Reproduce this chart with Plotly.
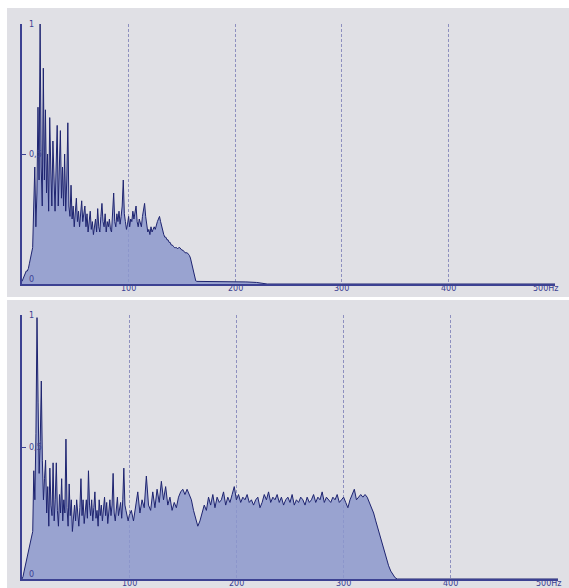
import plotly.graph_objects as go

# ---------------- data ----------------
FREQ_TOP = list(range(0, 171)) + [180, 190, 200, 210, 220, 225, 230, 300, 400, 500]
AMP_TOP = [
    0.01, 0.02, 0.03, 0.04, 0.05, 0.05, 0.06, 0.08, 0.10, 0.12,   # 0-9
    0.14, 0.30, 0.45, 0.22, 0.35, 0.68, 0.40, 1.00, 0.45, 0.30,   # 10-19
    0.83, 0.40, 0.67, 0.35, 0.50, 0.28, 0.64, 0.45, 0.30, 0.55,   # 20-29
    0.36, 0.28, 0.45, 0.61, 0.30, 0.42, 0.59, 0.33, 0.45, 0.30,   # 30-39
    0.50, 0.28, 0.40, 0.62, 0.30, 0.26, 0.38, 0.25, 0.30, 0.22,   # 40-49
    0.27, 0.33, 0.24, 0.28, 0.22, 0.26, 0.32, 0.24, 0.28, 0.30,   # 50-59
    0.22, 0.27, 0.20, 0.25, 0.28, 0.21, 0.24, 0.19, 0.23, 0.25,   # 60-69
    0.20, 0.29, 0.22, 0.20, 0.26, 0.31, 0.24, 0.22, 0.27, 0.20,   # 70-79
    0.24, 0.22, 0.25, 0.21, 0.20, 0.26, 0.35, 0.24, 0.22, 0.27,   # 80-89
    0.24, 0.28, 0.23, 0.26, 0.30, 0.40, 0.27, 0.24, 0.21, 0.23,   # 90-99
    0.26, 0.22, 0.25, 0.24, 0.28, 0.25, 0.27, 0.30, 0.24, 0.22,   # 100-109
    0.25, 0.23, 0.22, 0.26, 0.28, 0.31, 0.26, 0.22, 0.20, 0.21,   # 110-119
    0.19, 0.22, 0.20, 0.21, 0.22, 0.21, 0.23, 0.24, 0.25, 0.26,   # 120-129
    0.24, 0.22, 0.20, 0.19, 0.18, 0.18, 0.17, 0.17, 0.16, 0.16,   # 130-139
    0.15, 0.15, 0.145, 0.14, 0.14, 0.14, 0.135, 0.14, 0.14, 0.135,  # 140-149
    0.13, 0.13, 0.125, 0.12, 0.12, 0.12, 0.115, 0.11, 0.10, 0.08,  # 150-159
    0.06, 0.04, 0.02, 0.012, 0.01, 0.01, 0.01, 0.01, 0.01, 0.01,  # 160-169
    0.01,                                                         # 170
    0.01, 0.008, 0.008, 0.008, 0.006, 0.002, 0.0, 0.0, 0.0, 0.0,  # tail
]

FREQ_BOT = list(range(0, 101)) + list(range(102, 352, 2)) + [360, 400, 450, 500]
AMP_BOT = [
    0.0, 0.01, 0.03, 0.05, 0.07, 0.09, 0.11, 0.12, 0.14, 0.16,    # 0-9
    0.18, 0.41, 0.30, 0.55, 0.99, 0.67, 0.40, 0.52, 0.75, 0.45,   # 10-19
    0.30, 0.38, 0.45, 0.25, 0.35, 0.20, 0.42, 0.28, 0.24, 0.44,   # 20-29
    0.22, 0.30, 0.44, 0.26, 0.20, 0.32, 0.25, 0.38, 0.22, 0.30,   # 30-39
    0.25, 0.53, 0.27, 0.20, 0.36, 0.24, 0.30, 0.18, 0.25, 0.28,   # 40-49
    0.22, 0.30, 0.25, 0.20, 0.27, 0.38, 0.24, 0.30, 0.21, 0.26,   # 50-59
    0.30, 0.23, 0.41, 0.28, 0.24, 0.30, 0.22, 0.27, 0.33, 0.23,   # 60-69
    0.26, 0.20, 0.30, 0.24, 0.28, 0.22, 0.26, 0.31, 0.24, 0.29,   # 70-79
    0.21, 0.26, 0.30, 0.24, 0.28, 0.40, 0.25, 0.22, 0.27, 0.31,   # 80-89
    0.24, 0.26, 0.29, 0.23, 0.30, 0.42, 0.28, 0.26, 0.24, 0.22,   # 90-99
    0.24,                                                         # 100
    0.26, 0.22, 0.28, 0.33, 0.25, 0.30, 0.27, 0.39, 0.28, 0.26,   # 102-120
    0.33, 0.27, 0.34, 0.29, 0.37, 0.30, 0.35, 0.28, 0.31, 0.26,   # 122-140
    0.29, 0.27, 0.31, 0.33, 0.34, 0.32, 0.34, 0.32, 0.30, 0.26,   # 142-160
    0.23, 0.20, 0.22, 0.25, 0.28, 0.26, 0.31, 0.28, 0.32, 0.27,   # 162-180
    0.31, 0.29, 0.30, 0.33, 0.28, 0.31, 0.29, 0.32, 0.35, 0.30,   # 182-200
    0.32, 0.29, 0.31, 0.30, 0.32, 0.29, 0.30, 0.28, 0.30, 0.31,   # 202-220
    0.27, 0.29, 0.32, 0.30, 0.33, 0.29, 0.31, 0.30, 0.32, 0.29,   # 222-240
    0.31, 0.28, 0.30, 0.31, 0.29, 0.32, 0.28, 0.30, 0.29, 0.31,   # 242-260
    0.30, 0.28, 0.31, 0.29, 0.30, 0.32, 0.29, 0.31, 0.30, 0.33,   # 262-280
    0.29, 0.31, 0.30, 0.29, 0.31, 0.30, 0.32, 0.29, 0.30, 0.31,   # 282-300
    0.29, 0.27, 0.30, 0.32, 0.34, 0.30, 0.31, 0.32, 0.31, 0.32,   # 302-320
    0.31, 0.29, 0.27, 0.25, 0.22, 0.19, 0.16, 0.13, 0.10, 0.07,   # 322-340
    0.05, 0.03, 0.015, 0.005, 0.0,                                # 342-350
    0.0, 0.0, 0.0, 0.0,                                           # tail
]

X_TICKS = [100, 200, 300, 400, 500]
X_TICK_TEXT = ["100", "200", "300", "400", "500Hz"]
Y_TICKS = [0.5, 1]
Y_TICK_TEXT = ["0,5", "1"]

# ---------------- style ----------------
W, H = 569, 588
NAVY = "#1e2470"
AXIS = "#3c4192"
FILL = "rgba(140,152,204,0.85)"
PANEL = "#e0e0e5"
GRID = "#8e90bf"
FONT = dict(family="DejaVu Sans", size=8, color=AXIS)

fig = go.Figure()
fig.add_trace(go.Scatter(x=FREQ_TOP, y=AMP_TOP, mode="lines", fill="tozeroy",
                         fillcolor=FILL, line=dict(color=NAVY, width=1),
                         xaxis="x", yaxis="y", showlegend=False, hoverinfo="skip"))
fig.add_trace(go.Scatter(x=FREQ_BOT, y=AMP_BOT, mode="lines", fill="tozeroy",
                         fillcolor=FILL, line=dict(color=NAVY, width=1),
                         xaxis="x2", yaxis="y2", showlegend=False, hoverinfo="skip"))

def xax(domain, anchor):
    return dict(domain=domain, range=[0, 500], anchor=anchor, showgrid=True,
                gridcolor=GRID, griddash="3px,2px", gridwidth=1,
                tickvals=X_TICKS, showticklabels=False, ticks="",
                showline=True, linecolor=AXIS, linewidth=2, zeroline=False, fixedrange=True)

def yax(domain, anchor):
    return dict(domain=domain, range=[0, 1], anchor=anchor, showgrid=False,
                tickvals=Y_TICKS, showticklabels=False, ticks="inside", ticklen=4,
                tickcolor=AXIS, tickwidth=1,
                showline=True, linecolor=AXIS, linewidth=2, zeroline=False, fixedrange=True)

fig.update_layout(
    width=W, height=H, margin=dict(l=0, r=0, t=0, b=0),
    paper_bgcolor="white", plot_bgcolor="rgba(0,0,0,0)",
    xaxis=xax([22 / W, 555 / W], "y"),
    yaxis=yax([1 - 284 / H, 1 - 24 / H], "x"),
    xaxis2=xax([22 / W, 558 / W], "y2"),
    yaxis2=yax([1 - 579 / H, 1 - 315 / H], "x2"),
    shapes=[
        dict(type="rect", xref="paper", yref="paper", x0=7 / W, x1=1,
             y0=1 - 297 / H, y1=1 - 8 / H, fillcolor=PANEL, line=dict(width=0), layer="below"),
        dict(type="rect", xref="paper", yref="paper", x0=7 / W, x1=1,
             y0=0, y1=1 - 300 / H, fillcolor=PANEL, line=dict(width=0), layer="below"),
    ],
)

ann = []
for xr, yr in [("x", "y"), ("x2", "y2")]:
    for v, t in zip(X_TICKS, X_TICK_TEXT):
        ann.append(dict(x=v, y=0, xref=xr, yref=yr, text=t, showarrow=False, font=FONT,
                        xanchor="right" if t.endswith("Hz") else "center",
                        xshift=4 if t.endswith("Hz") else 0,
                        yanchor="top", yshift=1, borderpad=0))
    for v, t in zip(Y_TICKS, Y_TICK_TEXT):
        ann.append(dict(x=0, y=v, xref=xr, yref=yr, text=t, showarrow=False, font=FONT,
                        xanchor="left", xshift=5, yanchor="middle"))
    ann.append(dict(x=0, y=0, xref=xr, yref=yr, text="0", showarrow=False, font=FONT,
                    xanchor="left", xshift=5, yanchor="bottom", yshift=-2))
fig.update_layout(annotations=ann)

fig.write_html("out.html")
